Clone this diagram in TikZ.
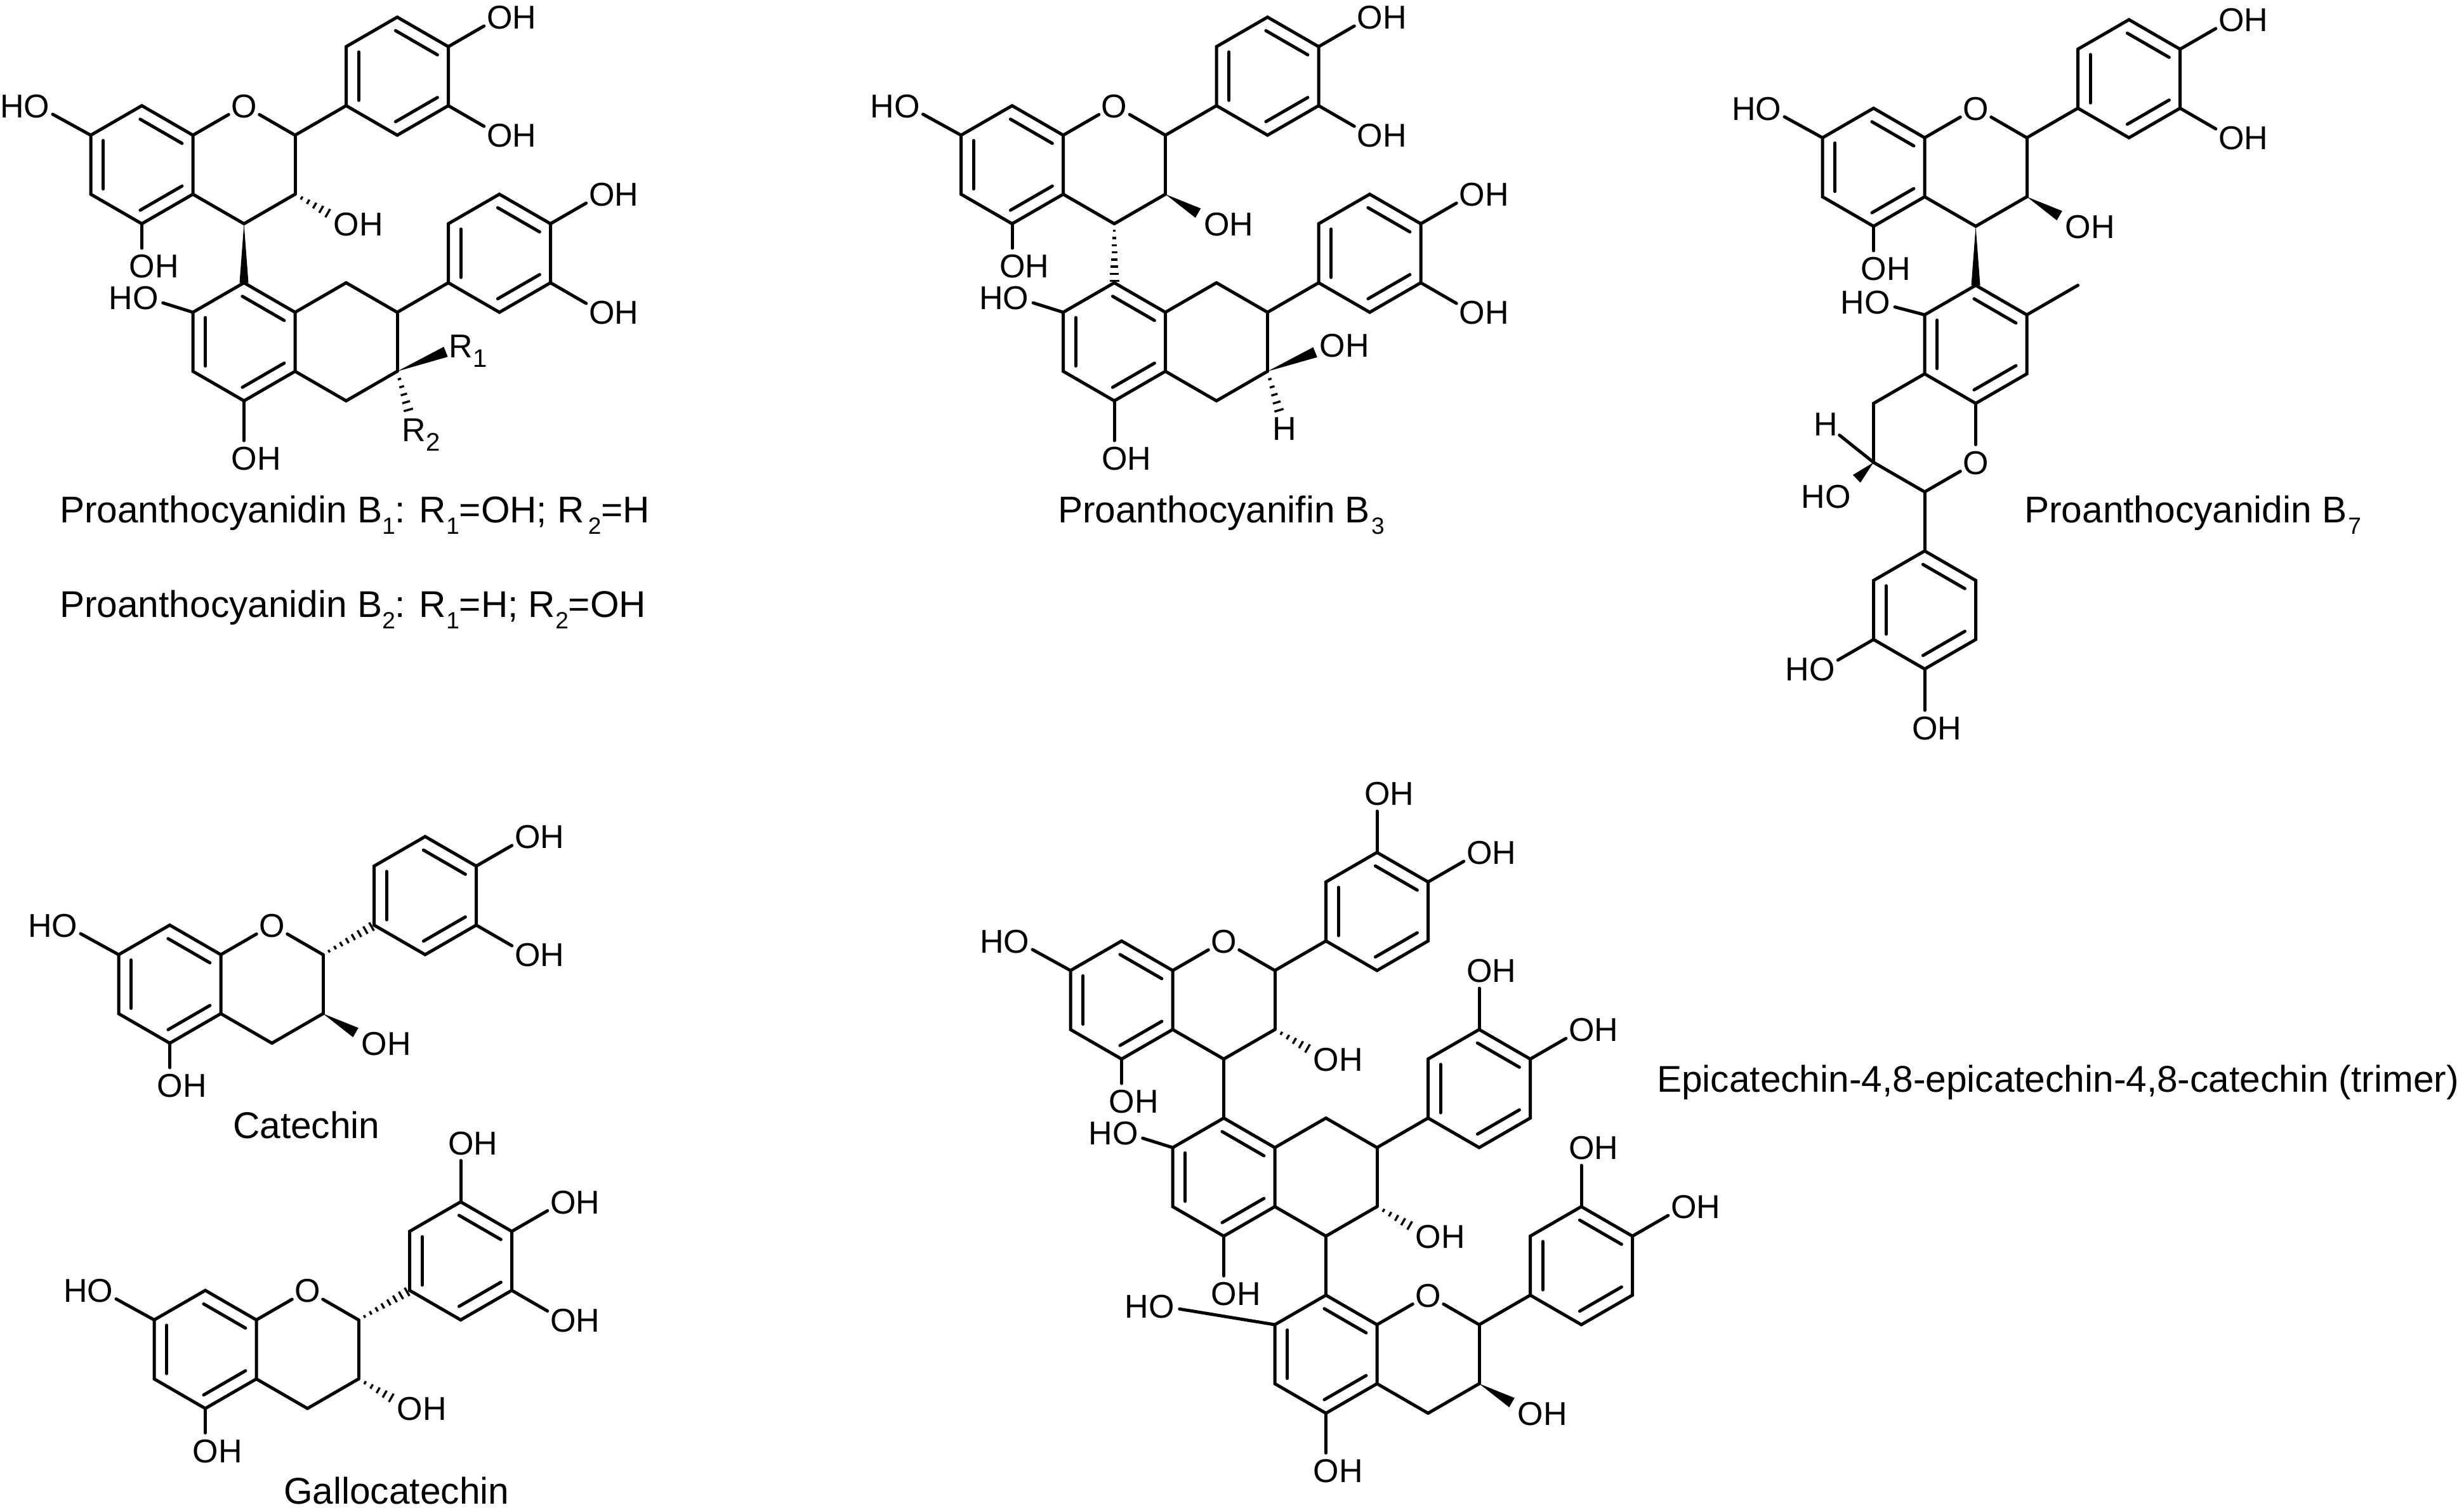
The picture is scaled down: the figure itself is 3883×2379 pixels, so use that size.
\documentclass[tikz,border=0pt]{standalone}
\usepackage{fontspec}
\setmainfont{Liberation Sans}
\usetikzlibrary{calc}
\tikzset{
  bond/.style={line width=5pt,line cap=round,line join=miter,black},
  hashline/.style={line width=3.4pt,black},
  atomlab/.style={inner sep=0pt,font=\fontsize{52}{60}\selectfont,text=black},
  caption/.style={inner sep=0pt,anchor=base west,font=\fontsize{58.6}{66}\selectfont,text=black}
}
\newcommand{\Pts}[1]{\foreach \n/\p in {#1}{\coordinate (\n) at (\p);}}
\newcommand{\Bonds}[1]{\foreach \u/\v in {#1}{\draw[bond] (\u)--(\v);}}
\newcommand{\ToLab}[1]{\foreach \u/\v in {#1}{\draw[bond,shorten >=28pt] (\u)--(\v);}}
\newcommand{\InnerB}[2]{\draw[bond,shorten <=-3pt,shorten >=-3pt] ($(#1)!.245!(rc)$)--($(#2)!.245!(rc)$);}
\newcommand{\Ring}[6]{%
  \coordinate (rc) at ($(#1)!.5!(#4)$);
  \draw[bond] (#1)--(#2)--(#3)--(#4)--(#5)--(#6)--cycle;
  \InnerB{#1}{#2}\InnerB{#3}{#4}\InnerB{#5}{#6}}
% wedge: from, to, fraction of the way, half width at the wide end
\newcommand{\WdgB}[4]{%
  \coordinate (wt) at ($(#1)!#3!(#2)$);
  \fill[black] (#1)--($(wt)!#4!90:(#1)$)--($(wt)!#4!-90:(#1)$)--cycle;}
% hash: from, to, fraction, number of stripes
\newcommand{\HshB}[4]{%
  \foreach \k in {1,...,#4}{%
    \pgfmathsetmacro\hT{\k/#4*#3}%
    \pgfmathsetmacro\hW{1.5+6*\k/#4}%
    \draw[hashline] ($(#1)!\hT!(#2)!\hW pt!90:(#2)$)--($(#1)!\hT!(#2)!\hW pt!-90:(#2)$);}}
\newcommand{\LOH}[1]{\node[atomlab,anchor=base west,xshift=-20pt,yshift=-18.5pt] (#1t) at (#1) {OH};}
\newcommand{\LHO}[1]{\node[atomlab,anchor=base east,xshift=20pt,yshift=-18.5pt] (#1t) at (#1) {HO};}
\newcommand{\LO}[1]{\node[atomlab,anchor=base,yshift=-18.5pt] (#1t) at (#1) {O};}
\newcommand{\LH}[1]{\node[atomlab,anchor=base,yshift=-18.5pt] (#1t) at (#1) {H};}
\newcommand{\SbA}[1]{\raisebox{-15pt}{\fontsize{40}{40}\selectfont #1}}
\newcommand{\SbC}[1]{\raisebox{-18pt}{\fontsize{37}{37}\selectfont #1}}
% flavan unit, lattice origin at its upper left ring atom
\newcommand{\Core}{%
  \Pts{a1/{0,0},a2/{1,-1},a3/{2,0},a4/{2,2},a5/{1,3},a6/{0,2},o/{3,-1},c2/{4,0},c3/{4,2},c4/{3,3},
       b1/{5,-1},b2/{5,-3},b3/{6,-4},b4/{7,-3},b5/{7,-1},b6/{6,0},
       oa/{-1.05,-1},ob/{1,4.43},oc/{5,3},od/{8,-4}}
  \Ring{a1}{a6}{a5}{a4}{a3}{a2}
  \Ring{b1}{b2}{b3}{b4}{b5}{b6}
  \Bonds{c2/c3,c3/c4,c4/a4}
  \ToLab{a3/o,c2/o,a1/oa,a5/ob,b4/od}
  \LO{o}\LHO{oa}\LOH{ob}\LOH{oc}\LOH{od}}
% hydroxyl on the lower position of the pendant ring
\newcommand{\CoreE}{%
  \Pts{oe/{8,0}}
  \ToLab{b5/oe}
  \LOH{oe}}
% second unit (carbocyclic) below the first
\newcommand{\Lower}{%
  \Pts{d1/{3,5},d2/{2,6},d3/{2,8},d4/{3,9},d5/{4,8},d6/{4,6},e1/{5,5},e2/{6,6},e3/{6,8},e4/{5,9},
       f1/{7,5},f2/{7,3},f3/{8,2},f4/{9,3},f5/{9,5},f6/{8,6},og/{1.08,5.5},oh/{3,10.95}}
  \Ring{d2}{d3}{d4}{d5}{d6}{d1}
  \Ring{f1}{f2}{f3}{f4}{f5}{f6}
  \Bonds{d6/e1,e1/e2,e2/e3,e3/e4,e4/d5,e2/f1}
  \ToLab{d2/og,d4/oh}
  \LHO{og}\LOH{oh}}
\begin{document}
\begin{tikzpicture}[x=1pt,y=-1pt]
\useasboundingbox (0,0) rectangle (3883,2379);
\fill[white] (0,0) rectangle (3883,2379);

% Proanthocyanidin B1/B2
\begin{scope}[shift={(143pt,-213pt)},x=80.5pt,y=-46.5pt,name prefix=ma-]
  \Core \CoreE \Lower
  \Bonds{c2/b1}
  \HshB{c3}{oc}{.64}{5}
  \WdgB{c4}{d1}{1}{7pt}
  \Pts{oi/{10,2},oj/{10,6},ra/{7.25,7.13},rb/{6.33,9.98}}
  \ToLab{f4/oi,f5/oj}
  \LOH{oi}\LOH{oj}
  \node[atomlab,anchor=base west,xshift=-19pt,yshift=-18.5pt] (rat) at (ra) {R\SbA{1}};
  \node[atomlab,anchor=base west,xshift=-19pt,yshift=-18.5pt] (rbt) at (rb) {R\SbA{2}};
  \WdgB{e3}{ra}{.76}{8.5pt}
  \HshB{e3}{rb}{.66}{5}
\end{scope}

% Proanthocyanifin B3
\begin{scope}[shift={(1514.5pt,-213pt)},x=80.5pt,y=-46.5pt,name prefix=mb-]
  \Core \CoreE \Lower
  \Bonds{c2/b1}
  \WdgB{c3}{oc}{.64}{8.5pt}
  \HshB{c4}{d1}{.97}{8}
  \Pts{oi/{10,2},oj/{10,6},ok/{7.27,7.12},hl/{6.33,9.94}}
  \ToLab{f4/oi,f5/oj}
  \LOH{oi}\LOH{oj}\LOH{ok}\LH{hl}
  \WdgB{e3}{ok}{.735}{8.5pt}
  \HshB{e3}{hl}{.68}{5}
\end{scope}

% Proanthocyanidin B7
\begin{scope}[shift={(2872pt,-217pt)},x=80.5pt,y=-46.5pt,name prefix=mc-]
  \Core \CoreE
  \Bonds{c2/b1}
  \WdgB{c3}{oc}{.64}{8.5pt}
  \Pts{d1/{3,5},d2/{2,6},d3/{2,8},d4/{3,9},d5/{4,8},d6/{4,6},me/{5,5},og/{1.08,5.58},
       g1/{1,9},g2/{1,11},g3/{2,12},op/{3,11},
       h1/{2,14},h2/{3,15},h3/{3,17},h4/{2,18},h5/{1,17},h6/{1,15},
       oq/{0,18},or/{2,20},hs/{0.06,9.7},ot/{0.31,12.16}}
  \WdgB{c4}{d1}{1}{7pt}
  \Ring{d2}{d3}{d4}{d5}{d6}{d1}
  \Ring{h1}{h2}{h3}{h4}{h5}{h6}
  \Bonds{d6/me,d3/g1,g1/g2,g2/g3,g3/h1}
  \ToLab{d2/og,d4/op,g3/op,h5/oq,h4/or,g2/hs}
  \WdgB{g2}{ot}{.48}{8.5pt}
  \LHO{og}\LO{op}\LHO{oq}\LOH{or}\LH{hs}\LHO{ot}
\end{scope}

% Catechin
\begin{scope}[shift={(187pt,-1504pt)},x=80.5pt,y=-46.5pt,name prefix=md-]
  \Core \CoreE
  \HshB{c2}{b1}{.95}{8}
  \WdgB{c3}{oc}{.64}{8.5pt}
\end{scope}

% Gallocatechin
\begin{scope}[shift={(243pt,-2079.5pt)},x=80.5pt,y=-46.5pt,name prefix=me-]
  \Core \CoreE
  \HshB{c2}{b1}{.95}{8}
  \HshB{c3}{oc}{.64}{5}
  \Pts{of/{6,-6}}
  \ToLab{b3/of}
  \LOH{of}
\end{scope}

% Trimer
\begin{scope}[shift={(1687pt,-1529pt)},x=80.5pt,y=-46.5pt,name prefix=mf-]
  \Core \Lower
  \Bonds{c2/b1,c4/d1}
  \HshB{c3}{oc}{.64}{5}
  \Pts{of/{6,-6},oi/{8,0},oj/{10,2},ok/{7,9},
       k1/{5,11},k2/{4,12},k3/{4,14},k4/{5,15},k5/{6,14},k6/{6,12},
       op/{7,11},l2/{8,12},l3/{8,14},l4/{7,15},
       m1/{9,11},m2/{9,9},m3/{10,8},m4/{11,9},m5/{11,11},m6/{10,12},
       oq/{10,6},or/{12,8},os/{1.79,11.37},ot/{5,16.95},ou/{9,15}}
  \ToLab{b3/of,f3/oi,f4/oj}
  \LOH{of}\LOH{oi}\LOH{oj}\LOH{ok}
  \HshB{e3}{ok}{.64}{5}
  \Ring{k2}{k3}{k4}{k5}{k6}{k1}
  \Ring{m1}{m2}{m3}{m4}{m5}{m6}
  \Bonds{e4/k1,l2/l3,l3/l4,l4/k5,l2/m1}
  \ToLab{k6/op,l2/op,m3/oq,m4/or,k2/os,k4/ot}
  \WdgB{l3}{ou}{.64}{8.5pt}
  \LO{op}\LOH{oq}\LOH{or}\LHO{os}\LOH{ot}\LOH{ou}
\end{scope}

% Captions
\node[caption] (capa) at (94,823) {Proanthocyanidin B\SbC{1}: R\SbC{1}=OH; R\kern6pt\SbC{2}=H};
\node[caption] (capb) at (94,972) {Proanthocyanidin B\SbC{2}: R\SbC{1}=H; R\SbC{2}=OH};
\node[caption] (capc) at (1667,823) {Proanthocyanifin B\kern2pt\SbC{3}};
\node[caption] (capd) at (3190,823) {Proanthocyanidin B\kern2pt\SbC{7}};
\node[caption] (cape) at (367,1793.6) {Catechin};
\node[caption] (capf) at (447,2369.5) {Gallocatechin};
\node[caption] (capg) at (2611,1720) {Epicatechin-4,8-epicatechin-4,8-catechin (trimer)};
\end{tikzpicture}
\end{document}
